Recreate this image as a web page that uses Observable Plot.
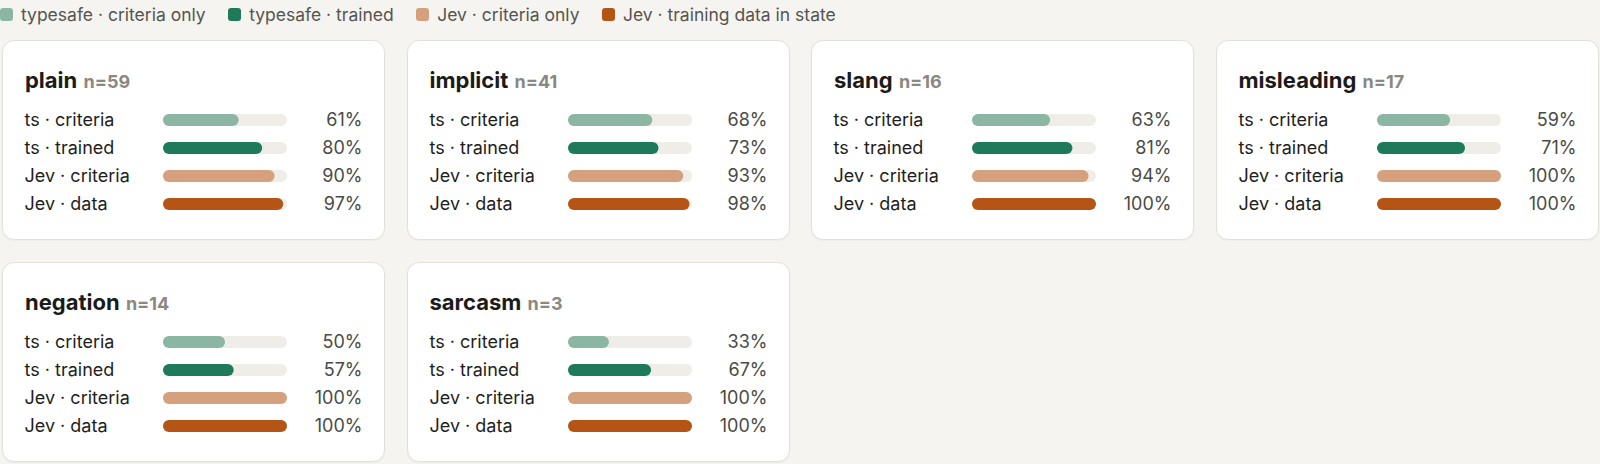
<!DOCTYPE html>
<html>
<head>
<meta charset="utf-8">
<script src="https://cdn.jsdelivr.net/npm/d3@7"></script>
<script src="https://cdn.jsdelivr.net/npm/@observablehq/plot@0.6"></script>
<style>
  html, body { margin: 0; padding: 0; background: #f5f4f0; }
  body { width: 1600px; height: 464px; overflow: hidden; position: relative; font-family: Inter, "Noto Sans", sans-serif; }
  #legend { position: absolute; left: 0; top: 4px; height: 20px; display: flex; align-items: center; font-size: 17.5px; color: #555550; white-space: nowrap; }
  .lg-item { display: inline-flex; align-items: center; margin-right: 22.5px; }
  .lg-sw { width: 13px; height: 13px; border-radius: 3px; margin-right: 8px; display: inline-block; }
  .card { position: absolute; width: 381px; height: 198px; background: #ffffff; border: 1px solid #e3e0d8; border-radius: 12px; box-shadow: 0 1px 2px rgba(0,0,0,0.04); }
  .card-title { position: absolute; left: 22px; top: 28px; font-size: 22px; line-height: 22px; font-weight: 700; color: #1b1b19; white-space: nowrap; }
  .card-title .n { font-size: 18px; color: #8a8880; font-weight: 700; margin-left: 1px; }
  .card svg.plot { position: absolute; left: -1px; top: 57px; max-width: none; }
</style>
</head>
<body>
<div id="legend"></div>
<div id="cards"></div>
<script>
// ---- data ----
const seriesNames = ["typesafe · criteria only", "typesafe · trained", "Jev · criteria only", "Jev · training data in state"];
const rowLabels = ["ts · criteria", "ts · trained", "Jev · criteria", "Jev · data"];
const seriesColors = ["#8bb6a3", "#1f7a5b", "#d4a07e", "#b45516"];
const categories = ["plain", "implicit", "slang", "misleading", "negation", "sarcasm"];
const counts = [59, 41, 16, 17, 14, 3];
const tsCriteria = [61, 68, 63, 59, 50, 33];
const tsTrained = [80, 73, 81, 71, 57, 67];
const jevCriteria = [90, 93, 94, 100, 100, 100];
const jevData = [97, 98, 100, 100, 100, 100];

// ---- legend ----
const legend = document.getElementById("legend");
seriesNames.forEach((name, i) => {
  const item = document.createElement("span");
  item.className = "lg-item";
  const sw = document.createElement("span");
  sw.className = "lg-sw";
  sw.style.background = seriesColors[i];
  item.appendChild(sw);
  item.appendChild(document.createTextNode(name));
  legend.appendChild(item);
});

// ---- cards ----
const cardsEl = document.getElementById("cards");
const colLeft = [2, 406.5, 811, 1215.5];
const rowTop = [40, 262];
const cardW = 383;

categories.forEach((cat, ci) => {
  const values = [tsCriteria[ci], tsTrained[ci], jevCriteria[ci], jevData[ci]];
  const rows = rowLabels.map((label, i) => ({label, value: values[i], color: seriesColors[i]}));

  const card = document.createElement("div");
  card.className = "card";
  card.style.left = colLeft[ci % 4] + "px";
  card.style.top = rowTop[Math.floor(ci / 4)] + "px";

  const title = document.createElement("div");
  title.className = "card-title";
  title.innerHTML = `${cat} <span class="n">n=${counts[ci]}</span>`;
  card.appendChild(title);

  const chart = Plot.plot({
    width: cardW,
    height: 128,
    marginLeft: 161,
    marginRight: cardW - 285,
    marginTop: 0,
    marginBottom: 0,
    style: {fontFamily: "Inter, 'Noto Sans', sans-serif", background: "transparent", overflow: "visible", maxWidth: "none"},
    x: {domain: [0, 100], axis: null},
    y: {domain: rowLabels, padding: 16 / 28, axis: null},
    marks: [
      Plot.barX(rows, {y: "label", x1: 0, x2: 100, fill: "#efede8", rx: 6}),
      Plot.barX(rows, {y: "label", x1: 0, x2: "value", fill: "color", rx: 6}),
      Plot.text(rows, {y: "label", text: "label", frameAnchor: "left", textAnchor: "start", dx: -139, fontSize: 18, fill: "#1e1e1c"}),
      Plot.text(rows, {y: "label", text: d => d.value + "%", frameAnchor: "right", textAnchor: "end", dx: 75, fontSize: 18, fill: "#4a4a46"})
    ]
  });
  chart.classList.add("plot");
  card.appendChild(chart);
  cardsEl.appendChild(card);
});
</script>
</body>
</html>
